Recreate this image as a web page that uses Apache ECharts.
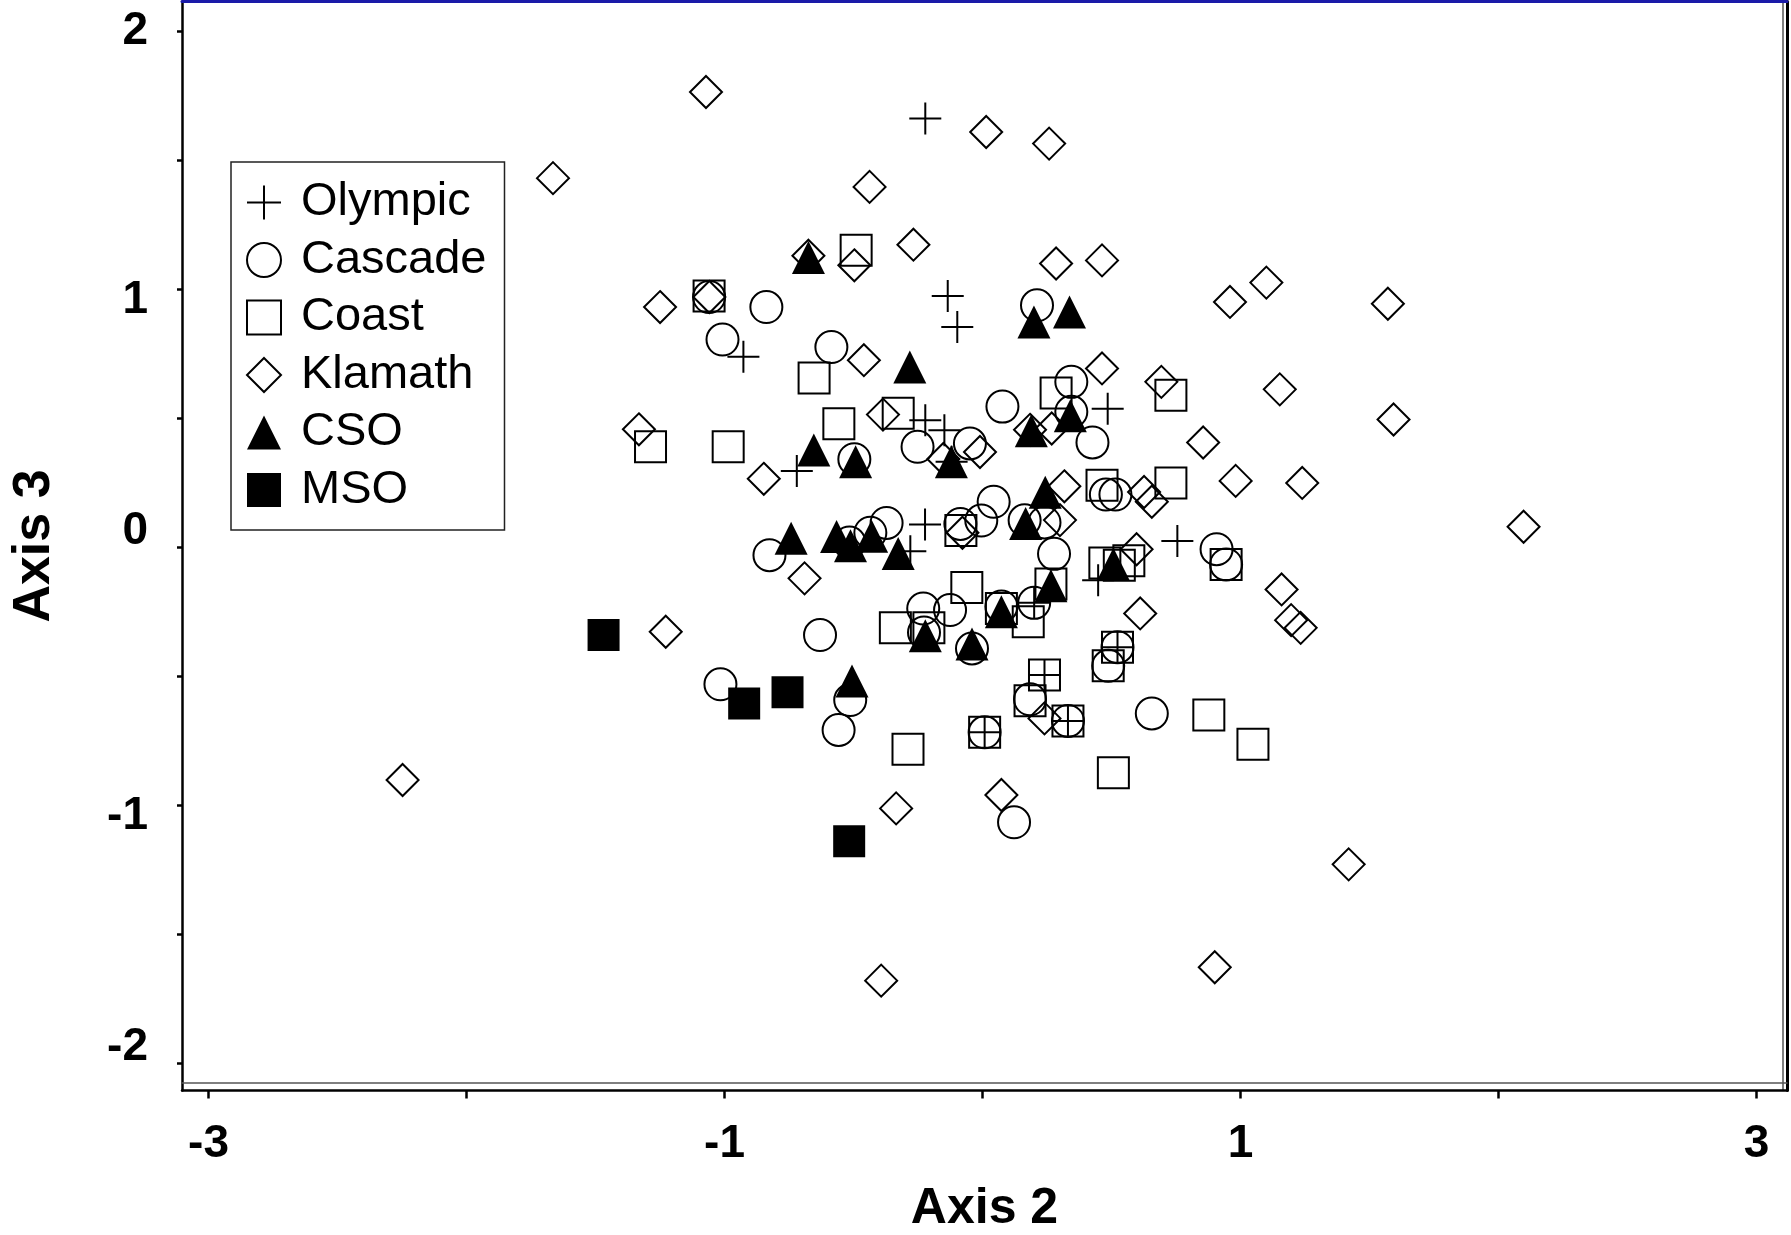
<!DOCTYPE html>
<html>
<head>
<meta charset="utf-8">
<script src="https://cdn.jsdelivr.net/npm/echarts@6/dist/echarts.min.js"></script>
<style>
  html, body { margin: 0; padding: 0; background: #fff; }
  #main { width: 1791px; height: 1235px; }
</style>
</head>
<body>
<div id="main"></div>
<script>
// point values, [axis 2, axis 3]
var olympic = [
  [-0.222, 1.662], [-0.135, 0.974], [-0.098, 0.854], [-0.927, 0.738], [0.485, 0.537],
  [-0.222, 0.492], [-0.148, 0.453], [-0.12, 0.331], [-0.72, 0.295], [-0.223, 0.088],
  [-0.28, -0.016], [0.755, 0.024], [0.448, -0.128], [0.2, -0.216], [0.008, -0.718],
  [0.24, -0.496], [0.331, -0.674], [0.523, -0.388]
];
var cascade = [
  [-1.06, 0.97], [-0.838, 0.931], [0.211, 0.938], [-1.008, 0.805], [-0.586, 0.776],
  [0.344, 0.641], [0.344, 0.525], [0.077, 0.545], [-0.252, 0.389], [-0.049, 0.402],
  [-0.497, 0.341], [0.478, 0.204], [0.515, 0.204], [0.043, 0.176], [-0.005, 0.103],
  [-0.086, 0.09], [-0.372, 0.094], [-0.435, 0.056], [-0.516, 0.018], [-0.826, -0.031],
  [0.163, 0.104], [0.24, 0.096], [0.277, -0.026], [0.2, -0.216], [0.073, -0.23],
  [-0.23, -0.238], [-0.126, -0.244], [-0.227, -0.331], [-0.041, -0.393], [-0.63, -0.341],
  [-1.016, -0.532], [-0.513, -0.593], [-0.558, -0.709], [0.008, -0.718], [0.184, -0.59],
  [0.331, -0.674], [0.523, -0.388], [0.487, -0.46], [0.656, -0.645], [0.122, -1.067],
  [0.907, -0.008], [0.944, -0.067], [0.426, 0.406]
];
var coast = [
  [-0.49, 1.151], [-1.06, 0.974], [-0.653, 0.656], [0.285, 0.598], [0.73, 0.589],
  [-1.287, 0.389], [-0.986, 0.389], [-0.557, 0.479], [-0.327, 0.519], [0.463, 0.24],
  [0.73, 0.249], [-0.084, 0.065], [0.474, -0.061], [0.53, -0.07], [0.567, -0.053],
  [-0.061, -0.156], [0.265, -0.143], [0.073, -0.238], [0.177, -0.289], [-0.338, -0.313],
  [-0.208, -0.313], [-0.289, -0.784], [0.008, -0.718], [0.24, -0.496], [0.184, -0.596],
  [0.331, -0.674], [0.523, -0.388], [0.487, -0.46], [0.877, -0.651], [0.507, -0.875],
  [1.048, -0.764], [0.944, -0.067]
];
var klamath = [
  [-1.072, 1.765], [0.014, 1.61], [0.258, 1.565], [-0.438, 1.397], [-1.665, 1.431],
  [-0.675, 1.13], [-0.497, 1.093], [-0.268, 1.173], [0.285, 1.1], [0.463, 1.112],
  [-1.059, 0.97], [-1.25, 0.931], [-0.46, 0.725], [0.463, 0.693], [0.693, 0.641],
  [0.959, 0.951], [1.1, 1.026], [1.571, 0.944], [1.152, 0.612], [1.593, 0.495],
  [0.855, 0.406], [0.981, 0.257], [1.239, 0.249], [2.097, 0.079], [1.159, -0.164],
  [1.196, -0.283], [1.233, -0.313], [-1.332, 0.457], [-0.386, 0.514], [0.268, 0.46],
  [-0.01, 0.369], [-0.152, 0.342], [-0.848, 0.265], [0.317, 0.236], [0.626, 0.214],
  [0.656, 0.176], [-0.078, 0.056], [0.3, 0.105], [0.597, -0.008], [-0.69, -0.121],
  [-1.228, -0.328], [0.611, -0.257], [0.24, -0.664], [-0.335, -1.013], [0.073, -0.961],
  [1.419, -1.23], [0.9, -1.629], [-0.393, -1.681], [-2.248, -0.903], [0.184, 0.455]
];
var cso = [
  [-0.675, 1.123], [0.199, 0.873], [0.337, 0.912], [-0.282, 0.699], [0.189, 0.451],
  [0.34, 0.51], [-0.654, 0.377], [-0.492, 0.331], [-0.121, 0.331], [0.243, 0.213],
  [-0.742, 0.035], [-0.566, 0.041], [-0.512, 0.005], [-0.43, 0.042], [-0.327, -0.025],
  [0.167, 0.092], [0.507, -0.066], [0.265, -0.15], [0.073, -0.25], [-0.222, -0.344],
  [-0.041, -0.376], [-0.506, -0.519]
];
var mso = [
  [-1.469, -0.341], [-0.924, -0.606], [-0.756, -0.563], [-0.517, -1.14]
];

// ticks and labels
var xTicks = [-3, -2, -1, 0, 1, 2, 3];
var xLabels = [-3, -1, 1, 3];
var yTicks = [-2, -1.5, -1, -0.5, 0, 0.5, 1, 1.5, 2];
var yLabels = [-2, -1, 0, 1, 2];

var xMin = -3.103, xMax = 3.118;
var yMin = -2.107, yMax = 2.116;

var FONT = "'Liberation Sans', Arial, sans-serif";
var plusPath = 'path://M0,16L32,16M16,0L16,32';

// the original y labels sit a little off their ticks
var yShift = { '2': 'c', '1': 'dn', '0': 'up', '-1': 'dn', '-2': 'up' };

var chart = echarts.init(document.getElementById('main'), null, { renderer: 'canvas' });

function openSeries(name, symbol, data, size) {
  return {
    name: name,
    type: 'scatter',
    data: data,
    symbol: symbol,
    symbolSize: size,
    itemStyle: { color: 'rgba(0,0,0,0)', borderColor: '#000', borderWidth: 2, opacity: 1 },
    emphasis: { disabled: true }
  };
}

function filledSeries(name, symbol, data, size) {
  return {
    name: name,
    type: 'scatter',
    data: data,
    symbol: symbol,
    symbolSize: size,
    itemStyle: { color: '#000', borderWidth: 0, opacity: 1 },
    emphasis: { disabled: true }
  };
}

var option = {
  animation: false,
  backgroundColor: '#fff',
  textStyle: { fontFamily: FONT },
  grid: {
    left: 182,
    right: 4,
    top: 1.5,
    bottom: 144.5,
    containLabel: false,
    outerBoundsMode: 'none'
  },
  legend: {
    orient: 'vertical',
    left: 231,
    top: 162,
    padding: [17, 18, 16.5, 15],
    itemWidth: 34,
    itemHeight: 34,
    itemGap: 10.5,
    backgroundColor: '#fff',
    borderColor: '#222',
    borderWidth: 1.5,
    borderRadius: 0,
    selectedMode: false,
    textStyle: {
      fontFamily: FONT,
      fontSize: 47,
      lineHeight: 47,
      color: '#000',
      padding: [0, 0, 0, 15]
    },
    data: ['Olympic', 'Cascade', 'Coast', 'Klamath', 'CSO', 'MSO']
  },
  xAxis: [
    {
      type: 'value',
      position: 'bottom',
      min: xMin,
      max: xMax,
      name: 'Axis 2',
      nameLocation: 'middle',
      nameGap: 94,
      nameTextStyle: { fontFamily: FONT, fontSize: 50, fontWeight: 'bold', color: '#000' },
      axisLine: { show: true, onZero: false, lineStyle: { color: '#000', width: 2.5 } },
      axisTick: { show: true, customValues: xTicks, length: 8, lineStyle: { color: '#000', width: 2.5 } },
      axisLabel: {
        show: true,
        customValues: xLabels,
        margin: 31,
        fontFamily: FONT,
        fontSize: 46,
        fontWeight: 'bold',
        color: '#000'
      },
      splitLine: { show: false }
    },
    {
      // blue frame line at the top
      type: 'value',
      position: 'top',
      min: xMin,
      max: xMax,
      axisLine: { show: true, onZero: false, lineStyle: { color: '#1a1aa8', width: 3 } },
      axisTick: { show: false },
      axisLabel: { show: false },
      splitLine: { show: false }
    },
    {
      // thin inner line above the bottom axis
      type: 'value',
      position: 'bottom',
      offset: -8,
      min: xMin,
      max: xMax,
      axisLine: { show: true, onZero: false, lineStyle: { color: '#555', width: 1.5 } },
      axisTick: { show: false },
      axisLabel: { show: false },
      splitLine: { show: false }
    }
  ],
  yAxis: [
    {
      type: 'value',
      position: 'left',
      min: yMin,
      max: yMax,
      name: 'Axis 3',
      nameLocation: 'middle',
      nameGap: 121,
      nameTextStyle: { fontFamily: FONT, fontSize: 52, fontWeight: 'bold', color: '#000' },
      axisLine: { show: true, onZero: false, lineStyle: { color: '#000', width: 2.5 } },
      axisTick: { show: true, customValues: yTicks, length: 5, lineStyle: { color: '#000', width: 2.5 } },
      axisLabel: {
        show: true,
        customValues: yLabels,
        margin: 34,
        fontFamily: FONT,
        fontSize: 46,
        fontWeight: 'bold',
        color: '#000',
        formatter: function (v) {
          var key = String(Math.round(v));
          return '{' + (yShift[key] || 'c') + '|' + key + '}';
        },
        rich: {
          c: { fontFamily: FONT, fontSize: 46, fontWeight: 'bold', color: '#000' },
          dn: { fontFamily: FONT, fontSize: 46, fontWeight: 'bold', color: '#000', padding: [22, 0, 0, 0] },
          up: { fontFamily: FONT, fontSize: 46, fontWeight: 'bold', color: '#000', padding: [0, 0, 32, 0] }
        }
      },
      splitLine: { show: false }
    },
    {
      // right frame line
      type: 'value',
      position: 'right',
      min: yMin,
      max: yMax,
      axisLine: { show: true, onZero: false, lineStyle: { color: '#000', width: 3 } },
      axisTick: { show: false },
      axisLabel: { show: false },
      splitLine: { show: false }
    },
    {
      type: 'value',
      position: 'right',
      offset: -4,
      min: yMin,
      max: yMax,
      axisLine: { show: true, onZero: false, lineStyle: { color: '#555', width: 1.5 } },
      axisTick: { show: false },
      axisLabel: { show: false },
      splitLine: { show: false }
    }
  ],
  series: [
    openSeries('Olympic', plusPath, olympic, 32),
    openSeries('Cascade', 'circle', cascade, 32),
    openSeries('Coast', 'rect', coast, 31),
    openSeries('Klamath', 'diamond', klamath, 32),
    filledSeries('CSO', 'triangle', cso, 33),
    filledSeries('MSO', 'rect', mso, 32)
  ]
};

chart.setOption(option);
</script>
</body>
</html>
